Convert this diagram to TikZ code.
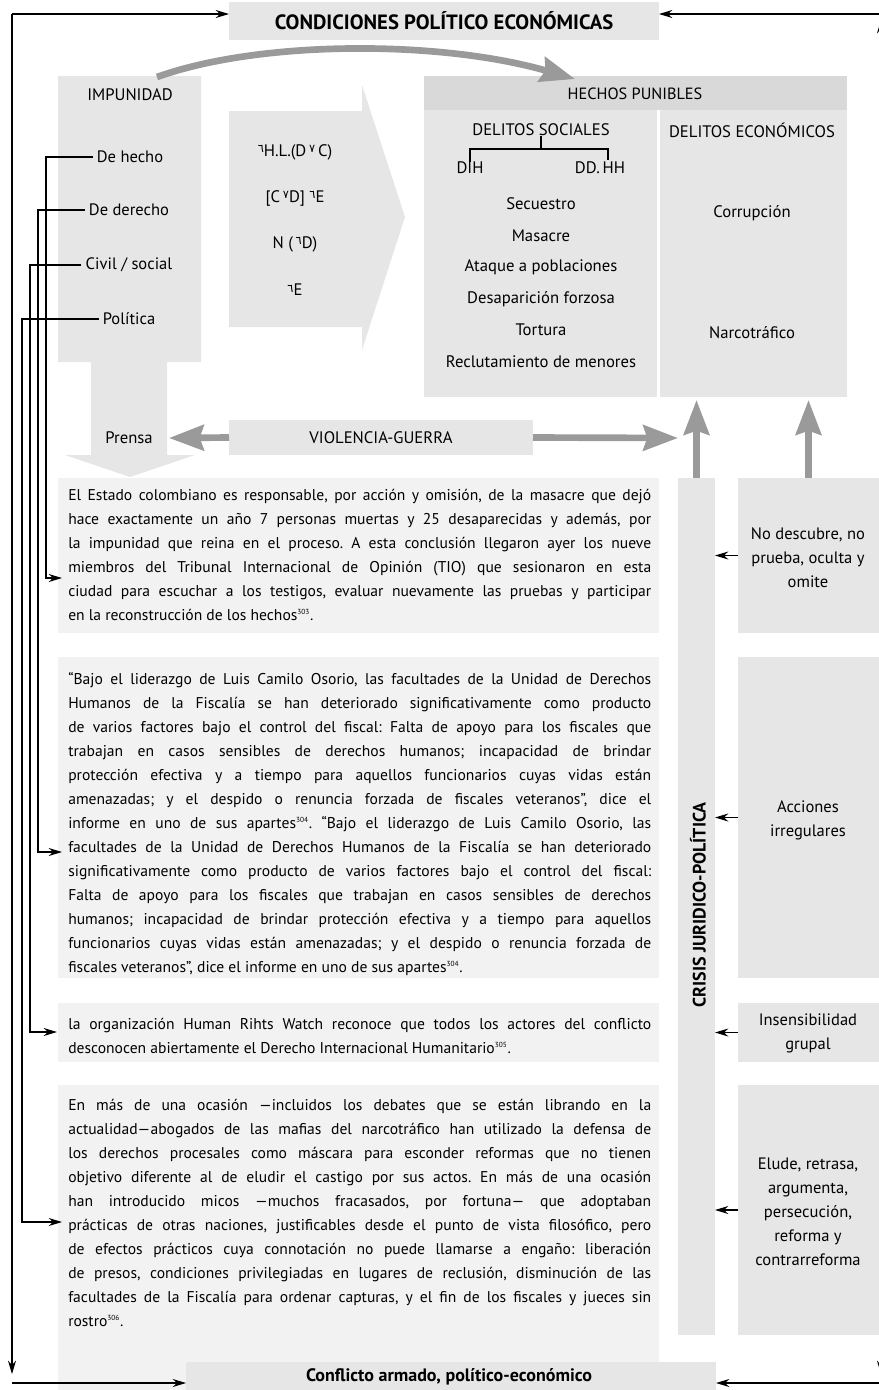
\documentclass[tikz,border=0pt]{standalone}
\usepackage{fontspec}
\setmainfont{PT Sans}
\newfontfamily\dvs{DejaVu Sans}
\usetikzlibrary{arrows.meta,fit}
\definecolor{boxg}{HTML}{E6E6E6}
\definecolor{boxh}{HTML}{D9D9D9}
\definecolor{boxl}{HTML}{F2F2F2}
\definecolor{arrg}{HTML}{9A9A9A}
\newlength\pw
\setlength\pw{437.25pt}
\newcommand{\JL}[1]{{\spaceskip=.26em plus .6em minus .1em\xspaceskip=\spaceskip\makebox[\pw][s]{#1}}\\}
\newcommand{\arx}[1]{\raisebox{2.6pt}{\dvs\fontsize{8.5}{8.5}\selectfont #1}}
\newcommand{\sups}[1]{\textsuperscript{\fontsize{5.5}{6}\selectfont #1}}
\frenchspacing
\tikzset{
  gbx/.style={fill=boxg,inner sep=0pt,outer sep=0pt},
  hbx/.style={fill=boxh,inner sep=0pt,outer sep=0pt},
  lbx/.style={fill=boxl,inner sep=0pt,outer sep=0pt},
  lbl/.style={inner sep=0pt,align=center,font=\fontsize{12.5}{18}\selectfont},
  rlbl/.style={inner sep=0pt,align=center,font=\fontsize{12.4}{18}\selectfont},
  itm/.style={inner sep=3pt,align=center,font=\fontsize{12.4}{18}\selectfont},
  para/.style={inner sep=0pt,text width=\pw,align=justify,font=\fontsize{11.7}{18}\selectfont},
  blk/.style={draw=black,line width=0.8pt,-{Stealth[length=10pt,width=6pt]}},
  fatarr/.style={draw=arrg,line width=5pt,-{Stealth[length=26pt,width=19pt,inset=3pt]}},
  brk/.style={draw=black,line width=0.8pt}
}
\begin{document}
\begin{tikzpicture}[x=0.75pt,y=-0.75pt]
\useasboundingbox (0,0) rectangle (879,1390);
% ---------- background shapes
\path[fill=boxg] (58,76) -- (201,76) -- (201,362) -- (167,362) -- (167,455) -- (195,455) -- (130,477) -- (65,455) -- (91,455) -- (91,362) -- (58,362) -- cycle;
\path[fill=boxg] (229,111) -- (362,111) -- (362,85) -- (405,217) -- (362,350) -- (362,327) -- (229,327) -- cycle;
% ---------- boxes
\node[gbx, fit={(229,2)(659,40)}] (cond) {};
\node[hbx, fit={(424,76)(847,110)}] (hechos) {};
\node[gbx, fit={(424,110)(657,397)}] (delsoc) {};
\node[gbx, fit={(660,110)(847,397)}] (deleco) {};
\node[gbx, fit={(229,420)(533,455)}] (viol) {};
\node[lbx, fit={(58,478)(659,633)}] (b1) {};
\node[lbx, fit={(58,657)(659,978)}] (b2) {};
\node[lbx, fit={(58,1003)(659,1062)}] (b3) {};
\node[lbx, fit={(58,1085)(659,1390)}] (b4) {};
\node[gbx, fit={(678,478)(715,1335)}] (crisis) {};
\node[gbx, fit={(738,478)(879,633)}] (r1) {};
\node[gbx, fit={(738,657)(879,978)}] (r2) {};
\node[gbx, fit={(738,1003)(879,1062)}] (r3) {};
\node[gbx, fit={(738,1085)(879,1335)}] (r4) {};
\node[gbx, fit={(186,1362)(716,1390)}] (confl) {};
% ---------- box texts
\node[inner sep=0pt, font=\bfseries\fontsize{15.5}{18}\selectfont] (condt) at (444,21) {CONDICIONES POLÍTICO ECONÓMICAS};
\node[inner sep=0pt, font=\fontsize{12.2}{14}\selectfont] (hechost) at (635,94) {HECHOS PUNIBLES};
\node[lbl] (violt) at (381,438) {VIOLENCIA-GUERRA};
\node[inner sep=0pt, font=\bfseries\fontsize{13.5}{15}\selectfont] (conflt) at (449,1377) {Conflicto armado, político-económico};
\node[rotate=90, inner sep=0pt, font=\bfseries\fontsize{13.5}{15}\selectfont] (crt) at (698,905) {CRISIS JURIDICO-POLÍTICA};
\node[rlbl] (r1t) at (808,558) {No descubre, no\\prueba, oculta y\\omite};
\node[rlbl] (r2t) at (808,820) {Acciones\\irregulares};
\node[rlbl] (r3t) at (808,1033) {Insensibilidad\\grupal};
\node[rlbl] (r4t) at (808,1212) {Elude, retrasa,\\argumenta,\\persecución,\\reforma y\\contrarreforma};
% ---------- labels
\node[lbl] (impu) at (130,95) {IMPUNIDAD};
\node[itm] (hecho) at (130,157) {De hecho};
\node[itm] (derecho) at (129,210) {De derecho};
\node[itm] (civil) at (129,265) {Civil / social};
\node[itm] (politica) at (129,319) {Política};
\node[lbl] (prensa) at (129,438) {Prensa};
\node[lbl] (m1) at (295,152) {\arx{٦}H.L.(D\,\arx{٧}\,C)};
\node[lbl] (m2) at (295,198) {[C\,\arx{٧}D]\ \arx{٦}E};
\node[lbl] (m3) at (295,244) {N (\,\arx{٦}D)};
\node[lbl] (m4) at (295,290) {\arx{٦}E};
\node[lbl] (dsoc) at (541,130) {DELITOS SOCIALES};
\node[lbl] (dih) at (470,168) {DIH};
\node[lbl] (ddhh) at (600,168) {DD.\,HH};
\node[lbl] (s1) at (541,204) {Secuestro};
\node[lbl] (s2) at (541,236) {Masacre};
\node[lbl] (s3) at (541,267) {Ataque a poblaciones};
\node[lbl] (s4) at (541,299) {Desaparición forzosa};
\node[lbl] (s5) at (541,330) {Tortura};
\node[lbl] (s6) at (541,362) {Reclutamiento de menores};
\node[lbl] (deco) at (752,130) {DELITOS ECONÓMICOS};
\node[lbl] (corr) at (752,213) {Corrupción};
\node[lbl] (narc) at (752,333) {Narcotráfico};
% ---------- paragraphs
\node[para, anchor=base west] (p1) at (68,500) {%
\JL{El Estado colombiano es responsable, por acción y omisión, de la masacre que dejó}
\JL{hace exactamente un año 7 personas muertas y 25 desaparecidas y además, por}
\JL{la impunidad que reina en el proceso. A esta conclusión llegaron ayer los nueve}
\JL{miembros del Tribunal Internacional de Opinión (TIO) que sesionaron en esta}
\JL{ciudad para escuchar a los testigos, evaluar nuevamente las pruebas y participar}
en la reconstrucción de los hechos\sups{303}.};
\node[para, anchor=base west] (p2) at (68,684.5) {%
\JL{“Bajo el liderazgo de Luis Camilo Osorio, las facultades de la Unidad de Derechos}
\JL{Humanos de la Fiscalía se han deteriorado significativamente como producto}
\JL{de varios factores bajo el control del fiscal: Falta de apoyo para los fiscales que}
\JL{trabajan en casos sensibles de derechos humanos; incapacidad de brindar}
\JL{protección efectiva y a tiempo para aquellos funcionarios cuyas vidas están}
\JL{amenazadas; y el despido o renuncia forzada de fiscales veteranos”, dice el}
\JL{informe en uno de sus apartes\sups{304}. “Bajo el liderazgo de Luis Camilo Osorio, las}
\JL{facultades de la Unidad de Derechos Humanos de la Fiscalía se han deteriorado}
\JL{significativamente como producto de varios factores bajo el control del fiscal:}
\JL{Falta de apoyo para los fiscales que trabajan en casos sensibles de derechos}
\JL{humanos; incapacidad de brindar protección efectiva y a tiempo para aquellos}
\JL{funcionarios cuyas vidas están amenazadas; y el despido o renuncia forzada de}
fiscales veteranos”, dice el informe en uno de sus apartes\sups{304}.};
\node[para, anchor=base west] (p3) at (68,1029) {%
\JL{la organización Human Rihts Watch reconoce que todos los actores del conflicto}
desconocen abiertamente el Derecho Internacional Humanitario\sups{305}.};
\node[para, anchor=base west] (p4) at (68,1110) {%
\JL{En más de una ocasión —incluidos los debates que se están librando en la}
\JL{actualidad—abogados de las mafias del narcotráfico han utilizado la defensa de}
\JL{los derechos procesales como máscara para esconder reformas que no tienen}
\JL{objetivo diferente al de eludir el castigo por sus actos. En más de una ocasión}
\JL{han introducido micos —muchos fracasados, por fortuna— que adoptaban}
\JL{prácticas de otras naciones, justificables desde el punto de vista filosófico, pero}
\JL{de efectos prácticos cuya connotación no puede llamarse a engaño: liberación}
\JL{de presos, condiciones privilegiadas en lugares de reclusión, disminución de las}
\JL{facultades de la Fiscalía para ordenar capturas, y el fin de los fiscales y jueces sin}
rostro\sups{306}.};
% ---------- bracket
\coordinate (bk) at (541,149);
\coordinate (bkr) at (608,160);
\draw[brk] (dsoc.south) -- (bk);
\draw[brk] (dih.north) |- (bk) -| (bkr);
% ---------- coordinates
\coordinate (cs) at (157,77);
\coordinate (ce) at (575,79);
\coordinate (pt) at (169,438);
\coordinate (vt) at (678,438);
\coordinate (ut) at (0,400);
\coordinate (c1) at (46,578);  \coordinate (e1) at (62,578);
\coordinate (c2) at (38,852);  \coordinate (e2) at (62,852);
\coordinate (c3) at (30,1032); \coordinate (e3) at (57,1032);
\coordinate (c4) at (22,1222); \coordinate (e4) at (62,1222);
\coordinate (tl) at (12,14);
\coordinate (bl) at (12,1374);
\coordinate (blh) at (12,1383);
\coordinate (tr) at (882,14);
\coordinate (rt) at (881,20);
\coordinate (rb) at (881,1374);
\coordinate (brh) at (882,1383);
% ---------- gray arrows
\draw[fatarr] (cs) .. controls (260,40) and (440,40) .. (ce);
\draw[fatarr] (viol.west) -- (pt);
\draw[fatarr] (viol.east) -- (vt);
\draw[fatarr] (crisis.north) -- (crisis.north |- ut);
\draw[fatarr] (r1.north) -- (r1.north |- ut);
% ---------- black connectors
\draw[blk] (hecho.west) -| (c1) -- (e1);
\draw[blk] (derecho.west) -| (c2) -- (e2);
\draw[blk] (civil.west) -| (c3) -- (e3);
\draw[blk] (politica.west) -| (c4) -- (e4);
\draw[blk] (tl) -- (tl -| cond.west);
\draw[blk] (tl) -- (bl);
\draw[blk] (blh) -- (blh -| confl.west);
\draw[blk] (tr) -- (tr -| cond.east);
\draw[blk, {Stealth[length=10pt,width=6pt]}-{Stealth[length=10pt,width=6pt]}] (rt) -- (rb);
\draw[blk] (brh) -- (brh -| confl.east);
\draw[blk] (r1.west) -- (r1.west -| crisis.east);
\draw[blk] (r2.west) -- (r2.west -| crisis.east);
\draw[blk] (r3.west) -- (r3.west -| crisis.east);
\draw[blk] (r4.west) -- (r4.west -| crisis.east);
\end{tikzpicture}
\end{document}
